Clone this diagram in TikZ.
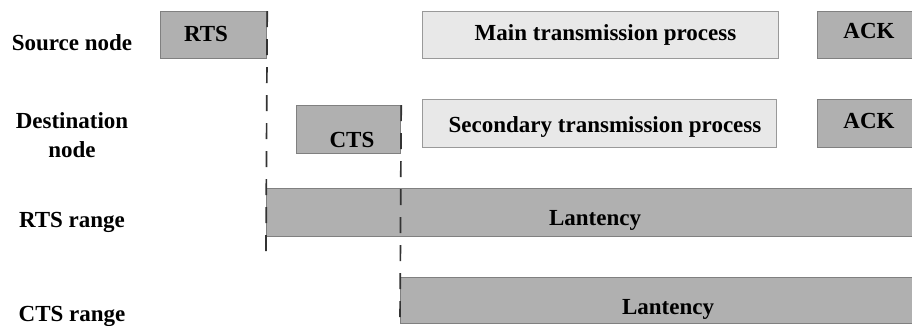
\documentclass[tikz,border=0pt]{standalone}
\usepackage{fontspec}
\setmainfont{Liberation Serif}
\begin{document}
\begin{tikzpicture}[x=1pt,y=-1pt,
  darkbox/.style={draw=black!50, line width=1.2pt, fill=black!31, inner sep=0pt, anchor=north west},
  lightbox/.style={draw=black!40, line width=1.2pt, fill=black!9, inner sep=0pt, anchor=north west},
  txt/.style={font=\bfseries\fontsize{23}{27}\selectfont, anchor=base, inner sep=0pt},
  dashline/.style={draw=black!80, line width=1.7pt, dash pattern=on 16pt off 12pt}]
\useasboundingbox (0,0) rectangle (912,325);
% boxes
\node[darkbox, minimum width=106pt, minimum height=47pt] (rts) at (160,11) {};
\node[darkbox, minimum width=104pt, minimum height=48pt] (cts) at (296,105) {};
\node[lightbox, minimum width=356pt, minimum height=47pt] (main) at (422,11) {};
\node[lightbox, minimum width=354pt, minimum height=48pt] (sec) at (422,99) {};
\node[darkbox, minimum width=120pt, minimum height=47pt] (ack1) at (817,11) {};
\node[darkbox, minimum width=120pt, minimum height=48pt] (ack2) at (817,99) {};
\node[darkbox, minimum width=680pt, minimum height=48pt] (rtsr) at (266,188) {};
\node[darkbox, minimum width=540pt, minimum height=46pt] (ctsr) at (400,277) {};
% dashed lines
\coordinate (e1) at (266,253);
\coordinate (e2) at (400,326);
\draw[dashline] (rts.north east) -- (e1);
\draw[dashline] (cts.north east) -- (e2);
% texts in boxes
\node[txt] (trts) at (206,41.5) {RTS};
\node[txt] (tcts) at (352,147) {CTS};
\node[txt] (tmain) at (605.5,40) {Main transmission process};
\node[txt] (tsec) at (605,132) {Secondary transmission process};
\node[txt] (tack1) at (869,38) {ACK};
\node[txt] (tack2) at (869,128) {ACK};
\node[txt] (tl1) at (595,225) {Lantency};
\node[txt] (tl2) at (668,314) {Lantency};
% row labels
\node[txt] (lsrc) at (72,50) {Source node};
\node[txt] (ldst1) at (72,128) {Destination};
\node[txt] (ldst2) at (72,157) {node};
\node[txt] (lrts) at (72,227) {RTS range};
\node[txt] (lcts) at (72,321) {CTS range};
\end{tikzpicture}
\end{document}
